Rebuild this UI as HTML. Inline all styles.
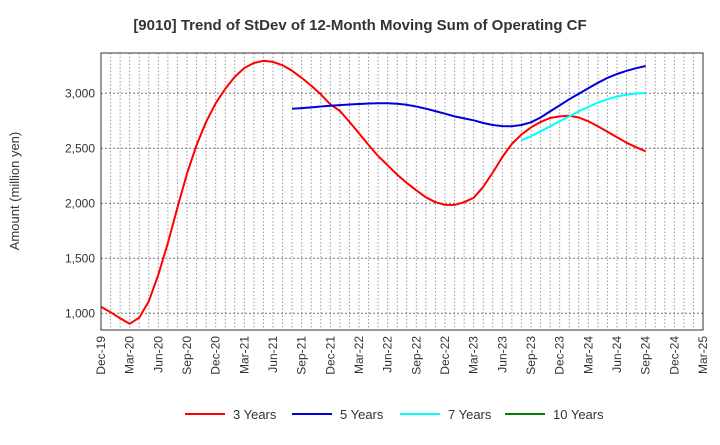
<!DOCTYPE html>
<html><head><meta charset="utf-8"><style>
body{margin:0;background:#fff;font-family:"Liberation Sans",sans-serif;}
svg text{font-family:"Liberation Sans",sans-serif;}
</style></head><body>
<svg id="chart" width="720" height="440" xmlns="http://www.w3.org/2000/svg">
<text x="360" y="30" text-anchor="middle" font-size="15" font-weight="bold" fill="#333">[9010]  Trend of StDev of 12-Month Moving Sum of Operating CF</text>
<text transform="translate(19,191) rotate(-90)" text-anchor="middle" font-size="13" fill="#333">Amount (million yen)</text>
<g id="grid"></g><g id="series"></g><g id="axes"></g><g id="legend"></g>
</svg>
<script>
const xLabels=["Dec-19","Mar-20","Jun-20","Sep-20","Dec-20","Mar-21","Jun-21","Sep-21","Dec-21","Mar-22","Jun-22","Sep-22","Dec-22","Mar-23","Jun-23","Sep-23","Dec-23","Mar-24","Jun-24","Sep-24","Dec-24","Mar-25"];
const yTicks=[1000,1500,2000,2500,3000];
const yTickLabels=["1,000","1,500","2,000","2,500","3,000"];
const red3=[1060,1010,955,905,960,1110,1350,1640,1960,2270,2530,2740,2910,3040,3150,3230,3275,3295,3285,3255,3205,3140,3070,2990,2900,2840,2740,2636,2530,2430,2345,2260,2185,2118,2055,2010,1985,1985,2010,2050,2150,2280,2420,2540,2625,2690,2740,2775,2790,2795,2780,2745,2700,2650,2600,2550,2510,2473];
const blue5Start=20;
const blue5=[2860,2865,2872,2880,2887,2893,2898,2903,2907,2910,2910,2905,2895,2880,2860,2838,2815,2790,2772,2755,2730,2712,2702,2700,2712,2736,2780,2835,2890,2945,2995,3045,3095,3140,3175,3205,3228,3248];
const cyan7Start=44;
const cyan7=[2573,2610,2655,2700,2745,2790,2835,2875,2915,2945,2970,2988,2998,3003];
const legendNames=["3 Years","5 Years","7 Years","10 Years"];
const legendColors=["#ff0000","#0000dd","#00ffff","#008000"];

const L=101,R=703,T=53,B=330;
const NS="http://www.w3.org/2000/svg";
const xm=i=>L+i*(R-L)/63;
const y=v=>93.3+(3000-v)*55/500;
function mk(tag,attrs,parent){const e=document.createElementNS(NS,tag);for(const k in attrs)e.setAttribute(k,attrs[k]);parent.appendChild(e);return e;}
const grid=document.getElementById('grid'),axes=document.getElementById('axes'),ser=document.getElementById('series'),leg=document.getElementById('legend');
mk('rect',{x:L,y:T,width:R-L,height:B-T,fill:'#fff'},grid);
for(let i=1;i<63;i++){const l=mk('line',{x1:xm(i),x2:xm(i),y1:T,y2:B,stroke:'#999','stroke-dasharray':'1.5,2','stroke-width':1},grid);

}
yTicks.forEach((v,i)=>{const l=mk('line',{x1:L,x2:R,y1:y(v),y2:y(v),stroke:'#777','stroke-dasharray':'2,2','stroke-width':1},grid);


const t=mk('text',{x:L-6,y:y(v)+4,'text-anchor':'end','font-size':12,fill:'#333'},axes);t.textContent=yTickLabels[i];

});
const fr=mk('rect',{x:L,y:T,width:R-L,height:B-T,fill:'none',stroke:'#333','stroke-width':1},axes);


xLabels.forEach((s,i)=>{const x=xm(i*3);const t=mk('text',{x:x+4,y:B+6,'text-anchor':'end','font-size':12,fill:'#333',transform:`rotate(-90 ${x+4} ${B+6})`},axes);t.textContent=s;

});
function line(arr,start,color,name){const p=arr.map((v,i)=>xm(start+i).toFixed(1)+','+y(v).toFixed(1)).join(' ');
const e=mk('polyline',{points:p,fill:'none',stroke:color,'stroke-width':2,'stroke-linejoin':'round'},ser);

}
line(red3,0,legendColors[0],'series-3-years');
line(blue5,blue5Start,legendColors[1],'series-5-years');
line(cyan7,cyan7Start,legendColors[2],'series-7-years');
const lx=[185,292,400,505];
legendNames.forEach((n,i)=>{const g=mk('g',{},leg);


mk('line',{x1:lx[i],x2:lx[i]+40,y1:414,y2:414,stroke:legendColors[i],'stroke-width':2},g);
const t=mk('text',{x:lx[i]+48,y:419,'font-size':13,fill:'#333'},g);t.textContent=n;});
</script>
</body></html>
